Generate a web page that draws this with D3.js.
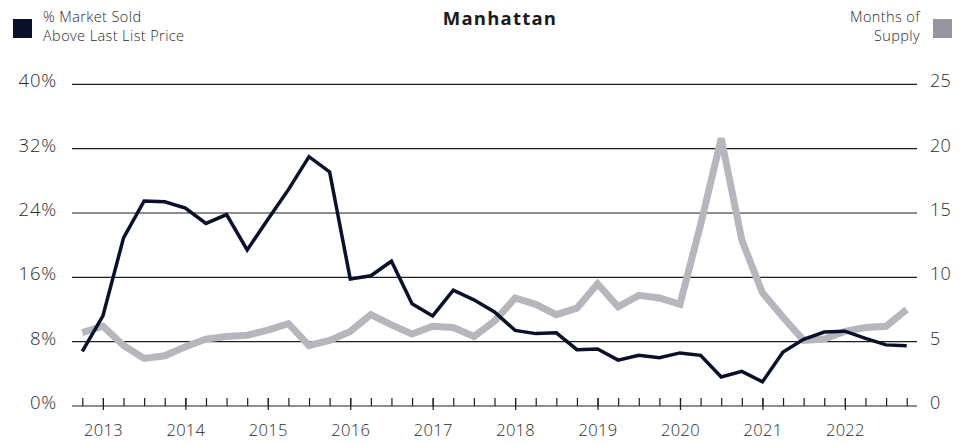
<!DOCTYPE html>
<html>
<head>
<meta charset="utf-8">
<script src="https://cdn.jsdelivr.net/npm/d3@7"></script>
<style>
  body { margin: 0; background: #fff; }
  svg text { font-family: "Open Sans", sans-serif; fill: #2b2b2b; font-weight: 300; }
</style>
</head>
<body>
<div id="chart"></div>
<script>
// quarters Q4 2012 .. Q4 2022
const quarters = [];
for (let y = 2012; y <= 2022; y++) {
    for (let q = 1; q <= 4; q++) {
        if (y === 2012 && q < 4) continue;
        quarters.push(y + "Q" + q);
    }
}

const yearLabels = ["2013", "2014", "2015", "2016", "2017", "2018", "2019", "2020", "2021", "2022"];

// % market sold above last list price
const pctAbove = [6.8, 11.2, 20.9, 25.5, 25.4, 24.6, 22.7, 23.8, 19.4, 23.2,
    26.9, 31.0, 29.1, 15.8, 16.2, 18.0, 12.7, 11.2, 14.4, 13.2,
    11.7, 9.4, 9.0, 9.1, 7.0, 7.1, 5.7, 6.3, 6.0, 6.6,
    6.3, 3.6, 4.3, 3.0, 6.7, 8.3, 9.2, 9.3, 8.4, 7.6, 7.5];

// months of supply
const monthsSupply = [5.7, 6.2, 4.7, 3.7, 3.9, 4.6, 5.2, 5.4, 5.5, 5.9,
    6.4, 4.7, 5.1, 5.8, 7.1, 6.3, 5.6, 6.2, 6.1, 5.4,
    6.6, 8.4, 7.9, 7.1, 7.6, 9.5, 7.7, 8.6, 8.4, 7.9,
    14.1, 20.8, 12.9, 8.8, 6.9, 5.1, 5.2, 5.8, 6.1, 6.2, 7.5];

const leftTicks = [0, 8, 16, 24, 32, 40];
const rightTicks = [0, 5, 10, 15, 20, 25];

const width = 969, height = 444;
const plotLeft = 72, plotRight = 917, plotTop = 84.3, plotBottom = 406;

const svg = d3.select("#chart").append("svg")
    .attr("width", width)
    .attr("height", height);

const x = d3.scalePoint()
    .domain(quarters)
    .range([plotLeft, plotRight])
    .padding(0.5);

const yL = d3.scaleLinear().domain([0, 40]).range([plotBottom, plotTop]);
const yR = d3.scaleLinear().domain([0, 25]).range([plotBottom, plotTop]);

// gridlines
svg.append("g")
    .selectAll("line")
    .data(leftTicks)
    .join("line")
    .attr("x1", plotLeft)
    .attr("x2", plotRight)
    .attr("y1", d => yL(d))
    .attr("y2", d => yL(d))
    .attr("stroke", "#1e1e1e")
    .attr("stroke-width", 1.2);

// left labels
svg.append("g")
    .selectAll("text")
    .data(leftTicks)
    .join("text")
    .attr("x", 57)
    .attr("y", d => yL(d) + 3)
    .attr("text-anchor", "end")
    .attr("font-size", 18.5)
    .attr("letter-spacing", 0.8)
    .text(d => d + "%");

// right labels
svg.append("g")
    .selectAll("text")
    .data(rightTicks)
    .join("text")
    .attr("x", 930)
    .attr("y", d => yR(d) + 3)
    .attr("text-anchor", "start")
    .attr("font-size", 18)
    .attr("letter-spacing", 0.3)
    .text(d => d);

// bottom axis, minor ticks every quarter
const xAxisG = svg.append("g")
    .attr("transform", `translate(0,${plotBottom})`)
    .call(d3.axisBottom(x).tickSize(-8).tickFormat(""));
xAxisG.select(".domain").remove();
xAxisG.selectAll(".tick line").attr("stroke", "#1e1e1e").attr("stroke-width", 1.2);

// major ticks on Q1 of each year
const majorG = svg.append("g")
    .attr("transform", `translate(0,${plotBottom})`)
    .call(d3.axisBottom(x)
        .tickValues(yearLabels.map(y => y + "Q1"))
        .tickSize(4)
        .tickPadding(14)
        .tickFormat(d => d.slice(0, 4)));
majorG.select(".domain").remove();
majorG.selectAll(".tick line")
    .attr("y1", -8)
    .attr("stroke", "#1e1e1e")
    .attr("stroke-width", 1.2);
majorG.selectAll(".tick text")
    .attr("font-size", 16.5)
    .attr("letter-spacing", 0.3)
    .attr("font-family", "Open Sans, sans-serif")
    .attr("fill", "#2b2b2b");

// lines
const lineR = d3.line()
    .x((d, i) => x(quarters[i]))
    .y(d => yR(d));
const lineL = d3.line()
    .x((d, i) => x(quarters[i]))
    .y(d => yL(d));

svg.append("path")
    .datum(monthsSupply)
    .attr("d", lineR)
    .attr("fill", "none")
    .attr("stroke", "#b6b7bc")
    .attr("stroke-width", 7);

svg.append("path")
    .datum(pctAbove)
    .attr("d", lineL)
    .attr("fill", "none")
    .attr("stroke", "#0a1029")
    .attr("stroke-width", 3.5);

// title
svg.append("text")
    .attr("x", 500)
    .attr("y", 25)
    .attr("text-anchor", "middle")
    .attr("font-size", 18.5)
    .attr("letter-spacing", 1.2)
    .style("font-weight", 700)
    .style("fill", "#1a1a1a")
    .text("Manhattan");

// left legend
svg.append("rect")
    .attr("x", 13).attr("y", 19)
    .attr("width", 19).attr("height", 19)
    .attr("fill", "#0a1029");
svg.append("text")
    .attr("x", 43).attr("y", 22)
    .attr("font-size", 14.5)
    .attr("letter-spacing", 0.4)
    .text("% Market Sold");
svg.append("text")
    .attr("x", 43).attr("y", 41)
    .attr("font-size", 14.5)
    .attr("letter-spacing", 0.4)
    .text("Above Last List Price");

// right legend
svg.append("rect")
    .attr("x", 933).attr("y", 19)
    .attr("width", 19).attr("height", 19)
    .attr("fill", "#9596a0");
svg.append("text")
    .attr("x", 920).attr("y", 22)
    .attr("text-anchor", "end")
    .attr("font-size", 14.5)
    .attr("letter-spacing", 0.4)
    .text("Months of");
svg.append("text")
    .attr("x", 920).attr("y", 41)
    .attr("text-anchor", "end")
    .attr("font-size", 14.5)
    .attr("letter-spacing", 0.4)
    .text("Supply");
</script>
</body>
</html>
